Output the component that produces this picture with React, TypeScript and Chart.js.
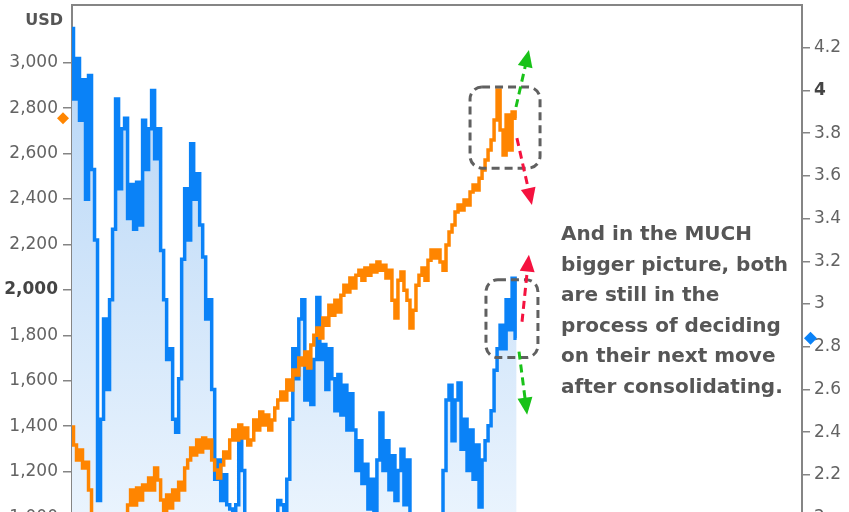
import React, { useEffect, useRef } from "react";
import { Chart, registerables } from "chart.js";

Chart.register(...registerables);

// S&P 500 (left axis, USD) – sampled along the time axis
const spx = [
  1397, 1317, 1251, 1295, 1216, 1242, 1119, 900, 850, 880,
  820, 760, 700, 820, 880, 920, 900, 960, 1000, 1053,
  1119, 1053, 1128, 1075, 1141, 1119, 1172, 1119, 1216, 1163,
  1075, 1009, 1097, 1040, 1119, 1075, 1154, 1119, 1216, 1251,
  1304, 1273, 1339, 1287, 1348, 1304, 1339, 1251, 1207, 1172,
  1229, 1287, 1260, 1339, 1383, 1339, 1405, 1348, 1392, 1317,
  1339, 1427, 1383, 1463, 1405, 1449, 1383, 1427, 1480, 1515,
  1551, 1515, 1603, 1559, 1647, 1625, 1700, 1669, 1727, 1656,
  1757, 1801, 1832, 1788, 1876, 1845, 1933, 1889, 1955, 1903,
  1977, 2021, 1991, 2052, 2008, 2065, 2087, 2043, 2096, 2065,
  2109, 2079, 2123, 2087, 2109, 2052, 2087, 1955, 1876, 2043,
  2079, 1999, 1955, 1832, 1911, 2021, 2065, 2096, 2043, 2131,
  2176, 2140, 2176, 2123, 2087, 2198, 2255, 2286, 2343, 2374,
  2352, 2396, 2374, 2431, 2462, 2440, 2492, 2528, 2572, 2616,
  2660, 2748, 2880, 2704, 2594, 2770, 2616, 2783, 2756,
];

// 10-year yield (right axis, %)
const yld = [
  4.29, 3.96, 4.15, 3.86, 4.05, 3.49, 4.07, 3.63, 3.3, 2.08,
  2.46, 2.93, 2.6, 3.02, 3.35, 3.96, 3.54, 3.82, 3.87, 3.4,
  3.56, 3.35, 3.57, 3.37, 3.86, 3.63, 3.82, 4.0, 3.68, 3.82,
  3.25, 3.02, 2.74, 2.79, 2.46, 2.4, 2.65, 3.21, 3.54, 3.3,
  3.75, 3.49, 3.61, 3.37, 3.22, 2.93, 3.02, 2.6, 2.18, 2.27,
  2.08, 2.2, 2.06, 2.04, 2.01, 2.06, 2.39, 2.22, 1.8, 1.71,
  1.61, 1.66, 1.57, 1.61, 1.71, 1.75, 1.8, 1.9, 1.99, 2.08,
  2.06, 2.01, 2.18, 2.46, 2.79, 2.65, 2.93, 3.02, 2.55, 2.69,
  2.53, 2.74, 3.03, 2.74, 2.81, 2.6, 2.79, 2.65, 2.5, 2.67,
  2.48, 2.62, 2.41, 2.58, 2.41, 2.22, 2.36, 2.16, 2.25, 2.04,
  2.18, 2.03, 2.27, 2.49, 2.22, 2.36, 2.13, 2.29, 2.08, 2.22,
  2.32, 2.06, 2.27, 2.01, 1.9, 1.8, 1.61, 1.52, 1.57, 1.61,
  1.66, 1.75, 1.9, 1.99, 2.22, 2.55, 2.62, 2.36, 2.55, 2.63,
  2.32, 2.46, 2.22, 2.41, 2.18, 2.34, 2.05, 2.27, 2.36, 2.43,
  2.5, 2.69, 2.79, 2.9, 2.79, 3.02, 2.88, 3.12, 2.84,
];

const leftTicks = [1000, 1200, 1400, 1600, 1800, 2000, 2200, 2400, 2600, 2800, 3000];
const rightTicks = [2, 2.2, 2.4, 2.6, 2.8, 3, 3.2, 3.4, 3.6, 3.8, 4, 4.2];
const leftTitle = "USD";
const noteLines = [
  "And in the MUCH",
  "bigger picture, both",
  "are still in the",
  "process of deciding",
  "on their next move",
  "after consolidating.",
];

const ORANGE = "#ff8500";
const BLUE = "#0a82f7";
const AXIS = "#858585";
const LABEL = "#636363";
const GREEN = "#19c219";
const RED = "#f5123f";
const FONT = "'DejaVu Sans', 'Liberation Sans', sans-serif";

const decor = {
  boxes: [
    { axis: "yL", x0: 132.5, x1: 155.8, y0: 2893, y1: 2536 },
    { axis: "yR", x0: 137.8, x1: 155.1, y0: 3.114, y1: 2.749 },
  ],
  arrows: [
    { axis: "yL", color: GREEN, from: [147.8, 2805], to: [152.1, 3056] },
    { axis: "yL", color: RED, from: [148.1, 2668], to: [153.1, 2374] },
    { axis: "yR", color: RED, from: [149.8, 2.917], to: [152.1, 3.231] },
    { axis: "yR", color: GREEN, from: [148.8, 2.777], to: [151.5, 2.482] },
  ],
  note: { x: 162.8, y: 3.3, axis: "yR", lineHeight: 30.6 },
};

const decorPlugin = {
  id: "decor",
  afterDraw(chart: any) {
    const { ctx, chartArea: a, scales } = chart;
    const sx = scales.x;
    ctx.save();

    // top border
    ctx.strokeStyle = AXIS;
    ctx.lineWidth = 2;
    ctx.beginPath();
    ctx.moveTo(a.left - 1, a.top);
    ctx.lineTo(a.right + 1, a.top);
    ctx.stroke();

    // dashed rounded boxes
    ctx.setLineDash([8, 5]);
    ctx.lineWidth = 3;
    ctx.strokeStyle = "#606060";
    for (const b of decor.boxes) {
      const sy = scales[b.axis];
      const x0 = sx.getPixelForValue(b.x0);
      const x1 = sx.getPixelForValue(b.x1);
      const y0 = sy.getPixelForValue(b.y0);
      const y1 = sy.getPixelForValue(b.y1);
      ctx.beginPath();
      ctx.roundRect(x0, y0, x1 - x0, y1 - y0, 12);
      ctx.stroke();
    }

    // arrows
    for (const ar of decor.arrows) {
      const sy = scales[ar.axis];
      const fx = sx.getPixelForValue(ar.from[0]);
      const fy = sy.getPixelForValue(ar.from[1]);
      const tx = sx.getPixelForValue(ar.to[0]);
      const ty = sy.getPixelForValue(ar.to[1]);
      const dx = tx - fx;
      const dy = ty - fy;
      const len = Math.hypot(dx, dy);
      const ux = dx / len;
      const uy = dy / len;
      const head = 17;
      const hw = 7.5;
      const bx = tx - ux * head;
      const by = ty - uy * head;
      ctx.setLineDash([8, 5]);
      ctx.lineWidth = 3;
      ctx.strokeStyle = ar.color;
      ctx.beginPath();
      ctx.moveTo(fx, fy);
      ctx.lineTo(bx + ux * 2, by + uy * 2);
      ctx.stroke();
      ctx.setLineDash([]);
      ctx.fillStyle = ar.color;
      ctx.beginPath();
      ctx.moveTo(tx, ty);
      ctx.lineTo(bx - uy * hw, by + ux * hw);
      ctx.lineTo(bx + uy * hw, by - ux * hw);
      ctx.closePath();
      ctx.fill();
    }
    ctx.setLineDash([]);

    // last-value diamonds
    const drawDiamond = (cx: number, cy: number, r: number, color: string) => {
      ctx.fillStyle = color;
      ctx.beginPath();
      ctx.moveTo(cx, cy - r);
      ctx.lineTo(cx + r, cy);
      ctx.lineTo(cx, cy + r);
      ctx.lineTo(cx - r, cy);
      ctx.closePath();
      ctx.fill();
    };
    drawDiamond(a.left - 9, scales.yL.getPixelForValue(spx[spx.length - 1]), 6, ORANGE);
    drawDiamond(a.right + 8.5, scales.yR.getPixelForValue(yld[yld.length - 1]), 6.5, BLUE);

    // axis title
    ctx.fillStyle = "#555";
    ctx.font = `bold 16px ${FONT}`;
    ctx.textAlign = "right";
    ctx.textBaseline = "alphabetic";
    ctx.fillText(leftTitle, a.left - 9, 25);

    // note text
    const n = decor.note;
    const nx = sx.getPixelForValue(n.x);
    const ny = scales[n.axis].getPixelForValue(n.y);
    ctx.font = `bold 20px ${FONT}`;
    ctx.textAlign = "left";
    ctx.fillStyle = "#565656";
    noteLines.forEach((line, i) => ctx.fillText(line, nx, ny + i * n.lineHeight));

    ctx.restore();
  },
};

export default function App() {
  const ref = useRef<HTMLCanvasElement | null>(null);

  useEffect(() => {
    const canvas = ref.current;
    if (!canvas) return;
    const chart = new Chart(canvas, {
      type: "line",
      data: {
        datasets: [
          {
            label: "S&P 500",
            data: spx.map((v, i) => ({ x: i, y: v })),
            yAxisID: "yL",
            borderColor: ORANGE,
            borderWidth: 3.5,
            pointRadius: 0,
            fill: false,
            stepped: "middle",
          },
          {
            label: "10Y yield",
            data: yld.map((v, i) => ({ x: i, y: v })),
            yAxisID: "yR",
            borderColor: BLUE,
            borderWidth: 3.5,
            pointRadius: 0,
            stepped: "middle",
            fill: "start",
            backgroundColor: (c: any) => {
              const ch = c.chart;
              const area = ch.chartArea;
              if (!area) return "rgba(190,220,248,0.8)";
              const g = ch.ctx.createLinearGradient(0, area.top, 0, area.bottom);
              g.addColorStop(0, "rgb(178,211,245)");
              g.addColorStop(1, "rgb(243,249,255)");
              return g;
            },
          },
        ],
      },
      options: {
        animation: false,
        responsive: false,
        maintainAspectRatio: false,
        devicePixelRatio: 1,
        layout: { padding: { top: 5, bottom: 37, left: 0, right: 0 } },
        plugins: { legend: { display: false }, tooltip: { enabled: false } },
        scales: {
          x: { type: "linear", min: 0, max: 243, display: false },
          yL: {
            type: "linear",
            position: "left",
            min: 622,
            max: 3254,
            afterFit: (s: any) => {
              s.width = 72;
              s.paddingTop = 0;
              s.paddingBottom = 0;
            },
            afterBuildTicks: (s: any) => {
              s.ticks = leftTicks.map((v) => ({ value: v }));
            },
            border: { display: true, color: AXIS, width: 2 },
            grid: { drawOnChartArea: false, drawTicks: true, tickLength: 9, color: AXIS, lineWidth: 1.5 },
            ticks: {
              padding: 5,
              color: (c: any) => (c.tick && c.tick.value === 2000 ? "#444" : LABEL),
              font: (c: any) => ({
                family: FONT,
                size: 17,
                weight: c.tick && c.tick.value === 2000 ? "bold" : "normal",
              }),
              callback: (v: any) => Number(v).toLocaleString("en-US"),
            },
          },
          yR: {
            type: "linear",
            position: "right",
            min: 1.6,
            max: 4.4,
            afterFit: (s: any) => {
              s.width = 47;
              s.paddingTop = 0;
              s.paddingBottom = 0;
            },
            afterBuildTicks: (s: any) => {
              s.ticks = rightTicks.map((v) => ({ value: v }));
            },
            border: { display: true, color: AXIS, width: 2 },
            grid: { drawOnChartArea: false, drawTicks: true, tickLength: 8, color: AXIS, lineWidth: 1.5 },
            ticks: {
              padding: 4,
              color: (c: any) => (c.tick && Math.abs(c.tick.value - 4) < 1e-9 ? "#444" : LABEL),
              font: (c: any) => ({
                family: FONT,
                size: 17,
                weight: c.tick && Math.abs(c.tick.value - 4) < 1e-9 ? "bold" : "normal",
              }),
              callback: (v: any) => String(Number(Number(v).toFixed(1))),
            },
          },
        },
      },
      plugins: [decorPlugin],
    });
    return () => chart.destroy();
  }, []);

  return (
    <div
      style={{
        position: "fixed",
        left: 0,
        top: 0,
        width: 849,
        height: 512,
        overflow: "hidden",
        background: "#fff",
      }}
    >
      <canvas ref={ref} width={849} height={640} style={{ display: "block", width: 849, height: 640 }} />
    </div>
  );
}
